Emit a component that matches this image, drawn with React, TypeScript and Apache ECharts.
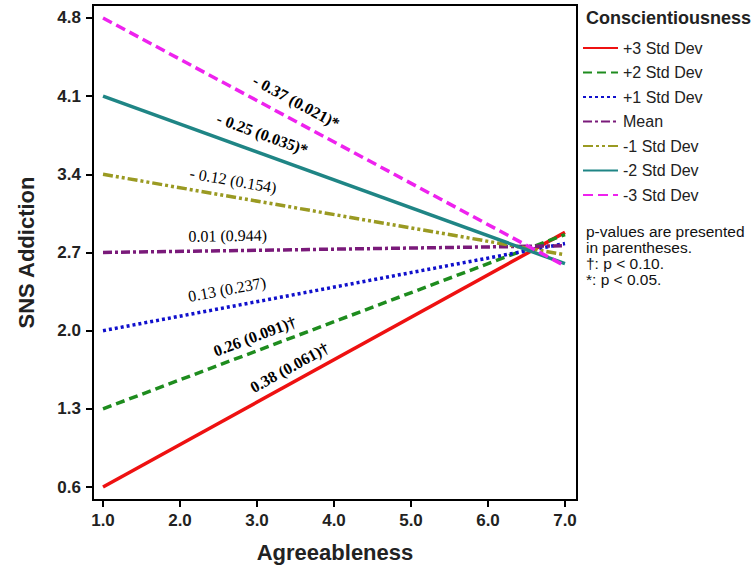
import React, { useEffect, useRef } from "react";
import * as echarts from "echarts";

const seriesNames = ["+3 Std Dev", "+2 Std Dev", "+1 Std Dev", "Mean", "-1 Std Dev", "-2 Std Dev", "-3 Std Dev"];
const xStart = 1.0;
const xEnd = 7.0;
const startValues = [0.6, 1.3, 2.0, 2.7, 3.4, 4.1, 4.8];
const endValues = [2.88, 2.86, 2.78, 2.76, 2.68, 2.6, 2.58];
const colors = ["#ee1111", "#1e8c1e", "#1010cc", "#7a1a7a", "#9a9a22", "#1f8585", "#ee22ee"];
const dashes: (number[] | string)[] = ["solid", [9, 5], [3, 3], [9, 3, 3, 3], [10, 3, 3, 3, 3, 3], "solid", [10, 5]];

const xTicks = [1, 2, 3, 4, 5, 6, 7];
const yTicks = [0.6, 1.3, 2.0, 2.7, 3.4, 4.1, 4.8];

const labelTexts = ["0.38 (0.061)\u2020", "0.26 (0.091)\u2020", "0.13 (0.237)", "0.01 (0.944)", "- 0.12 (0.154)", "- 0.25 (0.035)*", "- 0.37 (0.021)*"];
const labelBold = [true, true, false, false, false, true, true];
const labelX = [3.42, 2.97, 2.61, 2.62, 2.69, 3.07, 3.51];
const labelY = [1.67, 1.95, 2.37, 2.85, 3.345, 3.76, 4.05];

const notes = ["p-values are presented", "in parentheses.", "\u2020: p < 0.10.", "*: p < 0.05."];

export default function App() {
  const ref = useRef<HTMLDivElement>(null);
  useEffect(() => {
    if (!ref.current) return;
    const chart = echarts.init(ref.current, null, { renderer: "svg" });
    const sans = "Liberation Sans, Arial, sans-serif";
    const serif = "Liberation Serif, Times New Roman, serif";
    chart.setOption({
      animation: false,
      backgroundColor: "#ffffff",
      grid: { left: 93, top: 5, right: 179, bottom: 71, show: true, borderColor: "#000", borderWidth: 2, backgroundColor: "transparent" },
      xAxis: {
        type: "value",
        min: 0.87,
        max: 7.156,
        name: "Agreeableness",
        nameLocation: "middle",
        nameGap: 41,
        nameTextStyle: { fontFamily: sans, fontWeight: "bold", fontSize: 22, color: "#222" },
        splitLine: { show: false },
        axisLine: { show: false },
        axisTick: { show: true, length: 7, customValues: xTicks, lineStyle: { color: "#000", width: 2 } },
        axisLabel: { customValues: xTicks, formatter: (v: number) => v.toFixed(1), fontFamily: sans, fontWeight: "bold", fontSize: 17, color: "#222", margin: 12 },
      },
      yAxis: {
        type: "value",
        min: 0.484,
        max: 4.916,
        name: "SNS Addiction",
        nameLocation: "middle",
        nameGap: 56,
        nameTextStyle: { fontFamily: sans, fontWeight: "bold", fontSize: 22, color: "#222" },
        splitLine: { show: false },
        axisLine: { show: false },
        axisTick: { show: true, length: 7, customValues: yTicks, lineStyle: { color: "#000", width: 2 } },
        axisLabel: { customValues: yTicks, formatter: (v: number) => v.toFixed(1), fontFamily: sans, fontWeight: "bold", fontSize: 17, color: "#222", margin: 12 },
      },
      legend: {
        orient: "vertical",
        left: 577,
        top: 35,
        itemWidth: 35,
        itemHeight: 16,
        itemGap: 8.5,
        itemStyle: { opacity: 0 },
        textStyle: { fontFamily: sans, fontSize: 16, lineHeight: 16, color: "#222" },
        data: seriesNames,
      },
      series: seriesNames.map((name, i) => ({
        type: "line",
        name,
        symbol: "none",
        showSymbol: false,
        data: [[xStart, startValues[i]], [xEnd, endValues[i]]],
        lineStyle: { color: colors[i], width: 3.5, type: dashes[i] },
        itemStyle: { color: colors[i] },
        z: 2 + i,
      })),
    });

    const graphics: any[] = [];
    graphics.push({
      type: "text",
      x: 586,
      y: 18,
      style: { text: "Conscientiousness", font: `bold 18px ${sans}`, fill: "#222", verticalAlign: "middle" },
    });
    notes.forEach((t, k) => {
      graphics.push({
        type: "text",
        x: 586,
        y: 231 + k * 16,
        style: { text: t, font: `15.5px ${sans}`, fill: "#111", verticalAlign: "middle" },
      });
    });
    seriesNames.forEach((_, i) => {
      const p0 = chart.convertToPixel({ gridIndex: 0 }, [xStart, startValues[i]]) as number[];
      const p1 = chart.convertToPixel({ gridIndex: 0 }, [xEnd, endValues[i]]) as number[];
      const ang = -Math.atan2(p1[1] - p0[1], p1[0] - p0[0]);
      const pc = chart.convertToPixel({ gridIndex: 0 }, [labelX[i], labelY[i]]) as number[];
      graphics.push({
        type: "text",
        x: pc[0],
        y: pc[1],
        rotation: ang,
        z: 100,
        style: {
          text: labelTexts[i],
          font: `${labelBold[i] ? "bold " : ""}16px ${serif}`,
          fill: "#000",
          align: "center",
          verticalAlign: "middle",
        },
      });
    });
    chart.setOption({ graphic: graphics });
    return () => chart.dispose();
  }, []);
  return <div ref={ref} style={{ position: "fixed", left: 0, top: 0, width: 756, height: 571 }} />;
}
